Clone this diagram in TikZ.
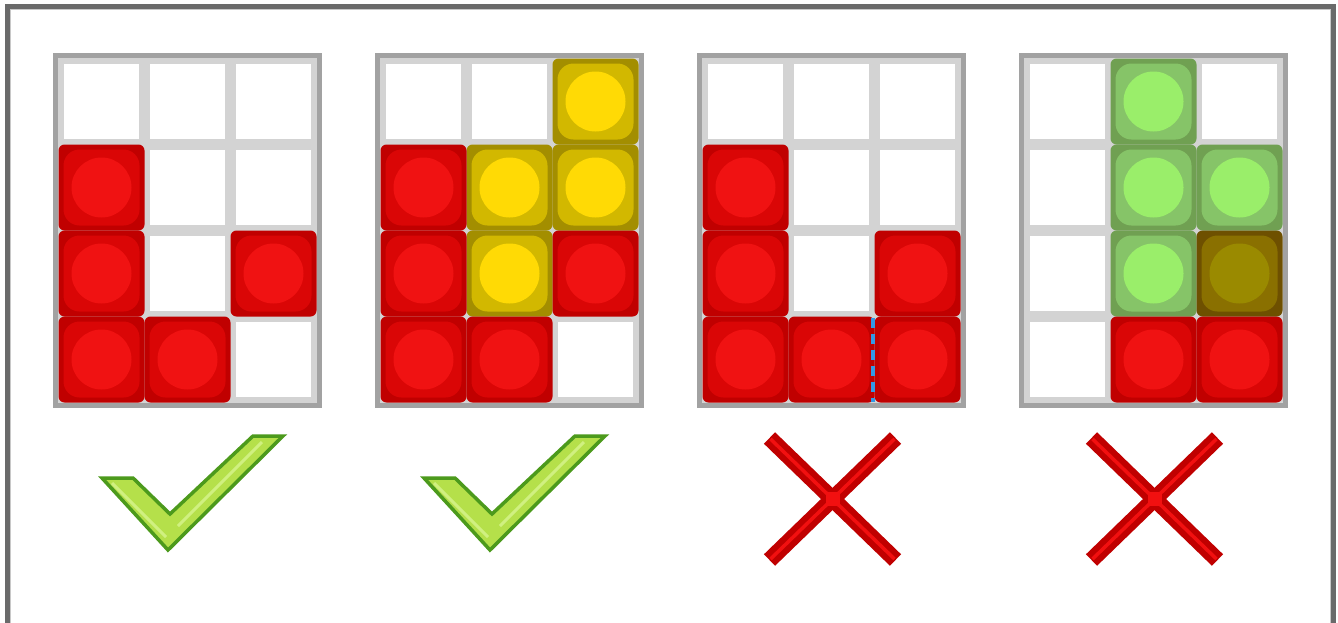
\documentclass[tikz,border=0pt]{standalone}
\definecolor{frameg}{HTML}{6A6A6A}
\definecolor{framel}{HTML}{C8C8C8}
\definecolor{gridl}{HTML}{D3D3D3}
\definecolor{gridb}{HTML}{A2A2A2}
\definecolor{ro}{HTML}{C00000}
\definecolor{rm}{HTML}{DA0606}
\definecolor{rc}{HTML}{F01212}
\definecolor{yo}{HTML}{A38E00}
\definecolor{ym}{HTML}{D2B800}
\definecolor{yc}{HTML}{FFDA05}
\definecolor{go}{HTML}{70A052}
\definecolor{gm}{HTML}{86C468}
\definecolor{gc}{HTML}{9AEE6A}
\definecolor{oo}{HTML}{6E5000}
\definecolor{om}{HTML}{8A7000}
\definecolor{oc}{HTML}{9A8A00}
\definecolor{chkd}{HTML}{4C9A1C}
\definecolor{chkf}{HTML}{B5E04A}
\definecolor{chkh}{HTML}{D0F080}
\definecolor{xd}{HTML}{C00000}
\definecolor{xc}{HTML}{F21010}
\definecolor{blueline}{HTML}{3399E6}
\newcommand\tblock[3]{%
  \fill[#3o, rounded corners=6pt] (#1,#2) rectangle ++(86,86);
  \fill[#3m, rounded corners=16pt] (#1+5,#2+5) rectangle ++(76,76);
  \fill[#3c] (#1+43,#2+43) circle (30);
}
\newcommand\tgrid[1]{%
  \fill[gridl] (#1,53) rectangle (#1+269,408);
  \foreach \c in {0,1,2} {\foreach \r in {0,1,2,3} {%
    \fill[white] (#1+11+86*\c,64+86*\r) rectangle ++(75,75);}}
}
\newcommand\tborder[1]{%
  \draw[gridb, line width=5pt] (#1+2.5,55.5) rectangle (#1+266.5,405.5);
}
% block at column c, row r of grid with left edge L
\newcommand\bk[4]{\tblock{#1+5.5+86*#2}{58.5+86*#3}{#4}}
\newcommand\tcheck[1]{%
  \filldraw[fill=chkf, draw=chkd, line width=3.5pt, line join=miter]
    (#1+102,478) -- (#1+133,478) -- (#1+170,514) -- (#1+253,436)
    -- (#1+283,436) -- (#1+168,550) -- cycle;
  \draw[chkh, line width=3pt] (#1+112,483) -- (#1+166,537);
  \draw[chkh, line width=3pt] (#1+178,526) -- (#1+262,442);
}
\newcommand\tcross[1]{%
  \draw[xd, line width=16pt] (#1-63,438) -- (#1+63,560);
  \draw[xd, line width=16pt] (#1+63,438) -- (#1-63,560);
  \draw[xc, line width=3.5pt] (#1-62,439) -- (#1+62,559);
  \draw[xc, line width=3.5pt] (#1+62,439) -- (#1-62,559);
  \fill[xc] (#1-7,499-7) rectangle (#1+7,499+7);
}
\begin{document}
\begin{tikzpicture}[x=1pt,y=-1pt]
\useasboundingbox (0,0) rectangle (1338,622);
\clip (0,0) rectangle (1338,622);
\fill[white] (0,0) rectangle (1338,622);
% outer frame
\draw[frameg, line width=5pt] (7.5,6.5) rectangle (1333.5,700);
\draw[framel, line width=1pt] (10.5,9.5) rectangle (1330.5,700);
% grid 1
\tgrid{53}
\bk{53}{0}{1}{r}\bk{53}{0}{2}{r}\bk{53}{0}{3}{r}\bk{53}{1}{3}{r}\bk{53}{2}{2}{r}
\tborder{53}
% grid 2
\tgrid{375}
\bk{375}{2}{0}{y}\bk{375}{1}{1}{y}\bk{375}{2}{1}{y}\bk{375}{1}{2}{y}
\bk{375}{0}{1}{r}\bk{375}{0}{2}{r}\bk{375}{0}{3}{r}\bk{375}{1}{3}{r}\bk{375}{2}{2}{r}
\tborder{375}
% grid 3
\tgrid{697}
\bk{697}{0}{1}{r}\bk{697}{0}{2}{r}\bk{697}{0}{3}{r}\bk{697}{1}{3}{r}\bk{697}{2}{2}{r}\bk{697}{2}{3}{r}
\draw[blueline, line width=4pt, dash pattern=on 10pt off 6pt] (873,318) -- (873,402);
\tborder{697}
% grid 4
\tgrid{1019}
\bk{1019}{1}{0}{g}\bk{1019}{1}{1}{g}\bk{1019}{2}{1}{g}\bk{1019}{1}{2}{g}
\bk{1019}{2}{2}{o}
\bk{1019}{1}{3}{r}\bk{1019}{2}{3}{r}
\tborder{1019}
% marks
\tcheck{0}
\tcheck{322}
\tcross{832.5}
\tcross{1154.5}
\end{tikzpicture}
\end{document}
